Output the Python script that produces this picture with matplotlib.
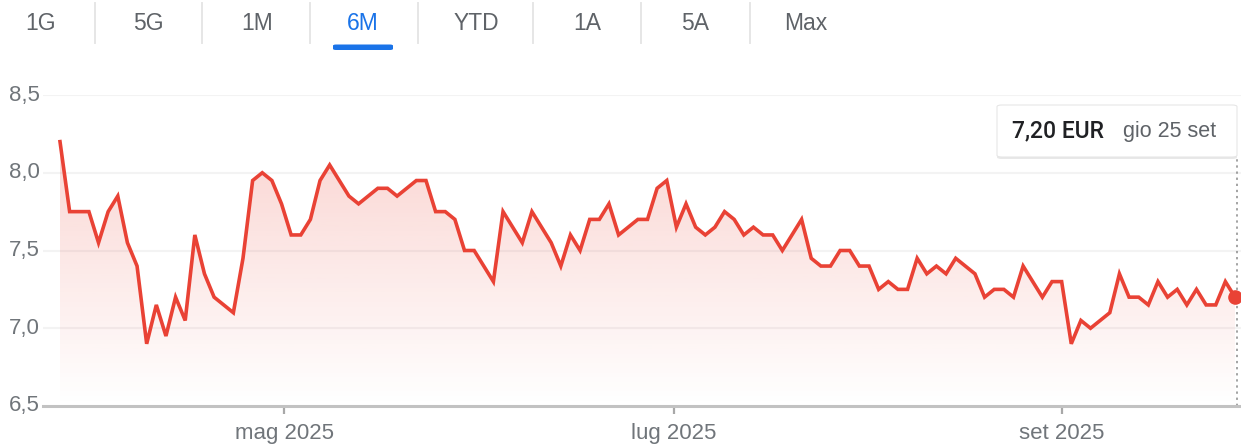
import numpy as np
import matplotlib
matplotlib.use("Agg")
import matplotlib.pyplot as plt
from matplotlib.patches import FancyBboxPatch
from matplotlib.lines import Line2D

plt.rcParams['font.family'] = ['Liberation Sans', 'DejaVu Sans']

# Closing prices (EUR), one per session, 6M window ending gio 25 set
prices = [8.20, 7.75, 7.75, 7.75, 7.55, 7.75, 7.85, 7.55, 7.40, 6.90,
          7.15, 6.95, 7.20, 7.05, 7.60, 7.35, 7.20, 7.15, 7.10, 7.45,
          7.95, 8.00, 7.95, 7.80, 7.60, 7.60, 7.70, 7.95, 8.05, 7.95,
          7.85, 7.80, 7.85, 7.90, 7.90, 7.85, 7.90, 7.95, 7.95, 7.75,
          7.75, 7.70, 7.50, 7.50, 7.40, 7.30, 7.75, 7.65, 7.55, 7.75,
          7.65, 7.55, 7.40, 7.60, 7.50, 7.70, 7.70, 7.80, 7.60, 7.65,
          7.70, 7.70, 7.90, 7.95, 7.65, 7.80, 7.65, 7.60, 7.65, 7.75,
          7.70, 7.60, 7.65, 7.60, 7.60, 7.50, 7.60, 7.70, 7.45, 7.40,
          7.40, 7.50, 7.50, 7.40, 7.40, 7.25, 7.30, 7.25, 7.25, 7.45,
          7.35, 7.40, 7.35, 7.45, 7.40, 7.35, 7.20, 7.25, 7.25, 7.20,
          7.40, 7.30, 7.20, 7.30, 7.30, 6.90, 7.05, 7.00, 7.05, 7.10,
          7.35, 7.20, 7.20, 7.15, 7.30, 7.20, 7.25, 7.15, 7.25, 7.15,
          7.15, 7.30, 7.20]

# month boundaries expressed as (fractional) session index
month_pos = [23.3, 63.7, 104.0]
month_labels = ["mag 2025", "lug 2025", "set 2025"]

y_ticks = [6.5, 7.0, 7.5, 8.0, 8.5]
y_labels = ["6,5", "7,0", "7,5", "8,0", "8,5"]

tabs = ["1G", "5G", "1M", "6M", "YTD", "1A", "5A", "Max"]
active_tab = "6M"

tooltip_price = "7,20 EUR"
tooltip_date = "gio 25 set"

RED = "#e94235"
GREY_TXT = "#70757a"

W, H = 1241, 446
fig = plt.figure(figsize=(W / 100, H / 100), dpi=100)

def fx(px):
    return px / W

def fy(py):
    return 1 - py / H

# ---- period tabs along the top
tab_x = [41, 148, 257, 363, 476, 587, 695, 806]
sep_x = [95, 202, 310, 418, 533, 641, 750]
for name, x in zip(tabs, tab_x):
    col = "#1a73e8" if name == active_tab else "#5f6368"
    fig.text(fx(x), fy(23), name, ha="center", va="center", fontsize=16.5, color=col)
for x in sep_x:
    fig.add_artist(Line2D([fx(x), fx(x)], [fy(3), fy(43)], color="#e6e6e6", lw=1.4))
ui = tabs.index(active_tab)
fig.add_artist(FancyBboxPatch((fx(tab_x[ui] - 30), fy(50)), fx(60), 5.5 / H,
                              boxstyle="round,pad=0,rounding_size=0.0025",
                              fc="#1a73e8", ec="none", transform=fig.transFigure))

# ---- chart area
x = np.arange(len(prices))
px_per_pt = (1235 - 60) / (len(prices) - 1)
ax = fig.add_axes([fx(43), fy(406), fx(W - 43), (406 - 95) / H])
ax.set_xlim(-(60 - 43) / px_per_pt, len(prices) - 1 + (W - 1235) / px_per_pt)
ax.set_ylim(6.5, 8.5)

# gradient fill under the line
poly = ax.fill_between(x, prices, 6.5, color="none", lw=0)
grad = np.zeros((256, 1, 4))
grad[:, 0, 0] = 234 / 255
grad[:, 0, 1] = 67 / 255
grad[:, 0, 2] = 53 / 255
grad[:, 0, 3] = np.linspace(0.22, 0.0, 256)
img = ax.imshow(grad, aspect="auto", extent=[0, len(prices) - 1, 6.5, max(prices)],
                origin="upper", zorder=1)
img.set_clip_path(poly.get_paths()[0], transform=ax.transData)

ax.plot(x, prices, color=RED, lw=2.6, zorder=3, solid_joinstyle="miter")
ax.plot(x[-1], prices[-1], "o", color=RED, ms=9.5, zorder=4)

for yv in y_ticks[1:]:
    ax.axhline(yv, color="#f3f3f3", lw=1.5, zorder=0)

for s in ["top", "right", "left"]:
    ax.spines[s].set_visible(False)
ax.spines["bottom"].set_color("#c2c2c2")
ax.spines["bottom"].set_linewidth(2.2)

ax.set_xticks(month_pos)
ax.set_xticklabels(month_labels)
ax.set_yticks(y_ticks)
ax.set_yticklabels(y_labels)
ax.tick_params(axis="x", length=6, width=1.6, color="#a8a8a8", labelsize=16,
               labelcolor=GREY_TXT, pad=6)
ax.tick_params(axis="y", length=0, labelsize=16, labelcolor=GREY_TXT, pad=2)
for lbl in ax.get_yticklabels():
    lbl.set_verticalalignment("center")

# ---- hover tooltip and crosshair
box_l, box_r, box_t, box_b = 997, 1237, 105, 157
shadow = FancyBboxPatch((fx(box_l), fy(box_b + 2)), fx(box_r - box_l), (box_b - box_t) / H,
                        boxstyle="round,pad=0,rounding_size=0.004", fc="#d9d9d9",
                        ec="none", transform=fig.transFigure, alpha=0.6)
fig.add_artist(shadow)
box = FancyBboxPatch((fx(box_l), fy(box_b)), fx(box_r - box_l), (box_b - box_t) / H,
                     boxstyle="round,pad=0,rounding_size=0.004", fc="white",
                     ec="#e6e6e6", lw=0.8, transform=fig.transFigure)
fig.add_artist(box)
fig.text(fx(1012), fy(131), tooltip_price, ha="left", va="center", fontsize=16.5,
         color="#202124", family=["Roboto", "DejaVu Sans"], fontweight="medium")
fig.text(fx(1123), fy(131), tooltip_date, ha="left", va="center", fontsize=15.5,
         color="#5f6368")

y_top = ax.transData.inverted().transform(fig.transFigure.transform((0, fy(box_b))))[1]
ax.vlines(x[-1] + 0.2, 6.5, y_top, colors="#8a8a8a", linestyles=(0, (1.5, 2.5)), lw=1.1,
          zorder=2)

fig.savefig("out.png", dpi=100)
